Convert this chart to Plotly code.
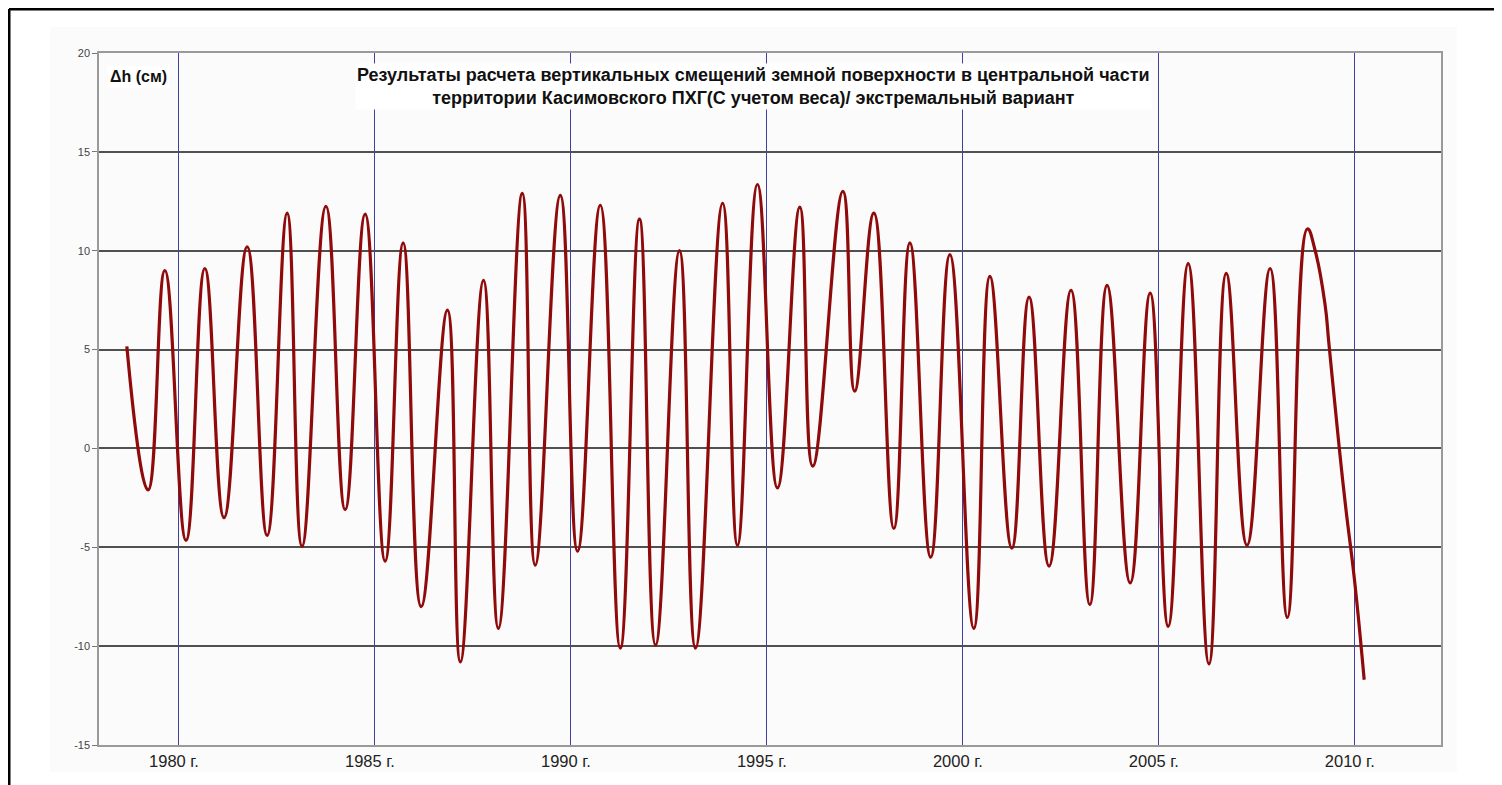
import plotly.graph_objects as go

# Extrema / key points (year, Δh in cm)
years = [1978.67, 1979.21, 1979.64, 1980.18, 1980.66, 1981.15, 1981.74, 1982.25,
         1982.76, 1983.14, 1983.75, 1984.24, 1984.75, 1985.26, 1985.72, 1986.18,
         1986.85, 1987.18, 1987.77, 1988.15, 1988.76, 1989.09, 1989.73, 1990.17,
         1990.75, 1991.26, 1991.75, 1992.16, 1992.77, 1993.18, 1993.87, 1994.25,
         1994.76, 1995.27, 1995.84, 1996.17, 1996.94, 1997.24, 1997.73, 1998.24,
         1998.65, 1999.18, 1999.67, 2000.28, 2000.69, 2001.25, 2001.69, 2002.20,
         2002.76, 2003.24, 2003.68, 2004.27, 2004.78, 2005.24, 2005.75, 2006.28,
         2006.72, 2007.25, 2007.84, 2008.28, 2008.79, 2008.99, 2009.24, 2009.34,
         2009.60, 2009.77, 2009.99, 2010.24]
dh = [5.16, -2.1, 9.0, -4.65, 9.1, -3.5, 10.2, -4.4,
      11.9, -4.95, 12.25, -3.1, 11.85, -5.7, 10.4, -8.0,
      7.0, -10.8, 8.5, -9.1, 12.9, -5.9, 12.8, -5.2,
      12.3, -10.1, 11.6, -9.95, 10.0, -10.1, 12.4, -4.9,
      13.35, -2.0, 12.2, -0.9, 13.0, 2.9, 11.9, -4.05,
      10.4, -5.5, 9.8, -9.1, 8.7, -5.05, 7.65, -5.95,
      8.0, -7.9, 8.25, -6.8, 7.85, -9.0, 9.35, -10.9,
      8.85, -4.9, 9.1, -8.55, 11.1, 10.0, 7.3, 5.3,
      0.1, -3.0, -6.6, -11.7]

x_ticks = [1980, 1985, 1990, 1995, 2000, 2005, 2010]
x_tick_labels = ["1980 г.", "1985 г.", "1990 г.", "1995 г.", "2000 г.", "2005 г.", "2010 г."]
y_ticks = [-15, -10, -5, 0, 5, 10, 15, 20]
y_tick_labels = ["-15", "-10", "-5", "0", "5", "10", "15", "20"]

title_text = ("Результаты расчета вертикальных смещений земной поверхности в центральной части<br>"
              "территории Касимовского ПХГ(С учетом веса)/ экстремальный вариант")
y_label = "Δh (см)"

# page body adds an 8px offset; figure coordinates are screen coordinates minus 8
OFF = 8
W, H = 1502 - OFF, 785 - OFF
L, R, T, B = 99 - OFF, 1441 - OFF, 53 - OFF, 745 - OFF


def px(xs):
    return (xs - OFF - L) / (R - L)


def py(ys):
    return 1 - (ys - OFF - T) / (B - T)


fig = go.Figure()
fig.add_trace(go.Scatter(
    x=years, y=dh, mode="lines",
    line=dict(color="#8f0a0a", width=3.2, shape="spline", smoothing=1.3),
    hoverinfo="x+y", showlegend=False,
))

shapes = [
    dict(type="rect", xref="paper", yref="paper", x0=px(50), x1=px(1457), y0=py(772), y1=py(27),
         fillcolor="#fbfbfb", line=dict(width=0), layer="below"),
    dict(type="line", xref="paper", yref="paper", x0=px(9), x1=px(9), y0=py(9), y1=py(800),
         line=dict(color="black", width=3)),
    dict(type="line", xref="paper", yref="paper", x0=px(9), x1=px(1500), y0=py(9), y1=py(9),
         line=dict(color="black", width=3)),
    dict(type="line", xref="paper", yref="paper", x0=px(1500), x1=px(1500), y0=py(9), y1=py(800),
         line=dict(color="black", width=3)),
]

annotations = [
    dict(text="<b>" + title_text + "</b>", xref="paper", yref="paper",
         x=px(753), y=py(86), xanchor="center", yanchor="middle", showarrow=False,
         font=dict(family="Liberation Sans, Arial", size=18, color="#111"),
         bgcolor="white", borderpad=1, align="center"),
    dict(text="<b>" + y_label + "</b>", xref="paper", yref="paper",
         x=px(138), y=py(76), xanchor="center", yanchor="middle", showarrow=False,
         font=dict(family="Liberation Sans, Arial", size=16, color="#111"),
         bgcolor="white", borderpad=2),
]

fig.update_layout(
    width=W, height=H,
    margin=dict(l=L, r=W - R, t=T, b=H - B),
    paper_bgcolor="white", plot_bgcolor="#fdfdfd",
    shapes=shapes, annotations=annotations,
    font=dict(family="Liberation Sans, Arial", color="#222"),
    xaxis=dict(
        range=[1977.96, 2012.2], tickvals=x_ticks, ticktext=x_tick_labels,
        showgrid=True, gridcolor="#4040a0", gridwidth=1,
        showline=True, linecolor="#9a9a9a", linewidth=1.5, mirror=True,
        ticks="", zeroline=False, tickfont=dict(size=16.5, color="#222"),
        ticklabelshift=-5,
    ),
    yaxis=dict(
        range=[-15, 20], tickvals=y_ticks, ticktext=y_tick_labels,
        showgrid=True, gridcolor="#505050", gridwidth=1.5,
        showline=True, linecolor="#9a9a9a", linewidth=1.5, mirror=True,
        ticks="outside", ticklen=5, tickcolor="#777", tickwidth=1,
        zeroline=False, tickfont=dict(size=11, color="#444"),
    ),
)

fig.write_html("out.html")
